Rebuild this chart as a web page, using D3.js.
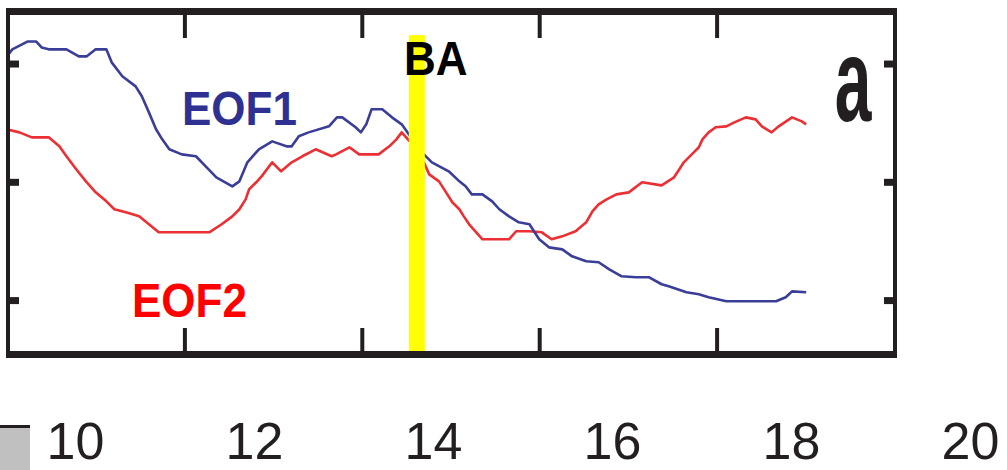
<!DOCTYPE html>
<html>
<head>
<meta charset="utf-8">
<script src="https://cdn.jsdelivr.net/npm/d3@7"></script>
<style>
  html, body { margin: 0; padding: 0; background: #ffffff; }
  svg { display: block; }
</style>
</head>
<body>
<svg id="chart" width="1007" height="470"></svg>
<script>
// ---- data ----
const xTickValues = [12, 14, 16, 18];
const yTickValues = [-1, 0, 1];
const xTickLabels = [10, 12, 14, 16, 18, 20];
const baYear = 14.62;
const baLabel = "BA";
const panelLabel = "a";
const seriesNames = ["EOF1", "EOF2"];

const eof1X = [10.00,10.06,10.23,10.33,10.39,10.47,10.67,10.81,10.90,11.00,11.12,11.18,11.30,11.45,11.52,11.60,11.68,11.75,11.83,11.97,12.13,12.24,12.36,12.54,12.62,12.71,12.84,12.99,13.15,13.21,13.29,13.40,13.63,13.72,13.78,13.93,13.99,14.05,14.11,14.23,14.34,14.45,14.57,14.70,14.79,14.98,15.10,15.17,15.24,15.36,15.47,15.55,15.66,15.77,15.89,16.00,16.11,16.26,16.37,16.53,16.67,16.79,16.93,17.09,17.24,17.38,17.46,17.66,17.80,17.91,18.11,18.29,18.48,18.67,18.78,18.85,19.01];
const eof1Y = [1.061,1.12,1.186,1.186,1.136,1.12,1.12,1.061,1.061,1.12,1.12,1.01,0.892,0.807,0.723,0.587,0.444,0.359,0.275,0.232,0.216,0.131,0.038,-0.038,0.004,0.165,0.275,0.342,0.300,0.300,0.385,0.418,0.469,0.545,0.545,0.461,0.418,0.486,0.613,0.613,0.545,0.486,0.36,0.232,0.165,0.089,0.004,-0.038,-0.106,-0.106,-0.165,-0.232,-0.292,-0.342,-0.359,-0.486,-0.554,-0.571,-0.630,-0.672,-0.680,-0.740,-0.799,-0.807,-0.807,-0.866,-0.883,-0.934,-0.951,-0.976,-1.010,-1.010,-1.010,-1.010,-0.976,-0.926,-0.934];

const eof2X = [10.00,10.14,10.28,10.47,10.59,10.67,10.78,10.89,11.00,11.12,11.21,11.34,11.49,11.60,11.71,11.86,12.09,12.28,12.42,12.54,12.62,12.69,12.73,12.81,12.87,12.99,13.09,13.21,13.33,13.48,13.66,13.71,13.86,13.97,14.19,14.31,14.39,14.45,14.57,14.70,14.76,14.87,14.95,15.02,15.10,15.15,15.21,15.29,15.36,15.51,15.66,15.74,15.89,16.03,16.14,16.26,16.41,16.53,16.60,16.67,16.76,16.87,17.01,17.16,17.38,17.52,17.58,17.63,17.72,17.80,17.84,17.91,17.99,18.11,18.20,18.33,18.44,18.51,18.62,18.70,18.85,18.96,19.01];
const eof2Y = [0.444,0.418,0.376,0.376,0.300,0.216,0.106,0.004,-0.089,-0.165,-0.232,-0.258,-0.292,-0.359,-0.427,-0.427,-0.427,-0.427,-0.359,-0.292,-0.232,-0.148,-0.063,-0.004,0.046,0.165,0.089,0.165,0.216,0.275,0.216,0.232,0.292,0.232,0.232,0.300,0.359,0.418,0.317,0.165,0.063,0.004,-0.089,-0.173,-0.232,-0.292,-0.359,-0.427,-0.486,-0.486,-0.486,-0.418,-0.418,-0.427,-0.486,-0.461,-0.418,-0.342,-0.249,-0.190,-0.148,-0.106,-0.089,-0.004,-0.030,0.038,0.106,0.165,0.232,0.292,0.359,0.418,0.461,0.469,0.503,0.545,0.528,0.469,0.418,0.469,0.545,0.511,0.486];

// ---- layout ----
const svg = d3.select("#chart");

const x = d3.scaleLinear().domain([10, 20]).range([7, 894]);
const y = d3.scaleLinear().domain([-1.46, 1.44]).range([354.5, 11.5]);
const xLab = d3.scaleLinear().domain([10, 20]).range([75, 970]);

const ink = "#231f20";

// clip
svg.append("defs").append("clipPath").attr("id", "clip")
  .append("rect").attr("x", 10).attr("y", 15).attr("width", 883).attr("height", 336);

const line = d3.line().x(d => x(d[0])).y(d => y(d[1]));
const s1 = eof1X.map((v, i) => [v, eof1Y[i]]);
const s2 = eof2X.map((v, i) => [v, eof2Y[i]]);

const plot = svg.append("g").attr("clip-path", "url(#clip)");
plot.append("path").datum(s2).attr("d", line)
  .attr("fill", "none").attr("stroke", "#ec2f33").attr("stroke-width", 2.6)
  .attr("stroke-linejoin", "round");
plot.append("path").datum(s1).attr("d", line)
  .attr("fill", "none").attr("stroke", "#3a3e98").attr("stroke-width", 2.6)
  .attr("stroke-linejoin", "round");

// yellow BA bar
svg.append("rect")
  .attr("x", x(baYear) - 8).attr("width", 16)
  .attr("y", y(1.24)).attr("height", y(-1.46) - y(1.24))
  .attr("fill", "#ffff00");

// axes (inward ticks, no labels)
function styleAxis(g, w) {
  g.select(".domain").remove();
  g.selectAll(".tick line").attr("stroke", ink).attr("stroke-width", w);
  g.selectAll(".tick text").remove();
}
svg.append("g").attr("transform", "translate(0,351)")
  .call(d3.axisBottom(x).tickValues(xTickValues).tickSize(-23).tickFormat(""))
  .call(g => styleAxis(g, 4));
svg.append("g").attr("transform", "translate(0,15)")
  .call(d3.axisTop(x).tickValues(xTickValues).tickSize(-23).tickFormat(""))
  .call(g => styleAxis(g, 4));
svg.append("g").attr("transform", "translate(10,0)")
  .call(d3.axisLeft(y).tickValues(yTickValues).tickSize(-9).tickFormat(""))
  .call(g => styleAxis(g, 7));
svg.append("g").attr("transform", "translate(893,0)")
  .call(d3.axisRight(y).tickValues(yTickValues).tickSize(-9).tickFormat(""))
  .call(g => styleAxis(g, 7));

// frame
const frame = svg.append("g").attr("stroke", ink).attr("fill", "none");
frame.append("line").attr("x1", 6).attr("x2", 897).attr("y1", 11.5).attr("y2", 11.5).attr("stroke-width", 7);
frame.append("line").attr("x1", 6).attr("x2", 897).attr("y1", 354.5).attr("y2", 354.5).attr("stroke-width", 7);
frame.append("line").attr("x1", 8).attr("x2", 8).attr("y1", 8).attr("y2", 358).attr("stroke-width", 4);
frame.append("line").attr("x1", 895).attr("x2", 895).attr("y1", 8).attr("y2", 358).attr("stroke-width", 4);

// text labels
const bold = "'Liberation Sans', Arial, Helvetica, sans-serif";
svg.append("text").text(seriesNames[0])
  .attr("transform", "translate(182,125) scale(1,1.1)")
  .attr("font-family", bold).attr("font-weight", "bold").attr("font-size", 44)
  .attr("fill", "#2e3192");
svg.append("text").text(seriesNames[1])
  .attr("transform", "translate(132,317) scale(1,1.1)")
  .attr("font-family", bold).attr("font-weight", "bold").attr("font-size", 44)
  .attr("fill", "#ff0000");
svg.append("text").text(baLabel)
  .attr("transform", "translate(404,75) scale(1,1.08)")
  .attr("font-family", bold).attr("font-weight", "bold").attr("font-size", 44)
  .attr("fill", "#000000");
svg.append("text").text(panelLabel)
  .attr("transform", "translate(853,121) scale(1,1.8)")
  .attr("text-anchor", "middle")
  .attr("font-family", bold).attr("font-weight", "bold").attr("font-size", 66)
  .attr("fill", ink);

// grey swatch at lower left
svg.append("rect").attr("x", 0).attr("y", 427).attr("width", 30).attr("height", 43).attr("fill", "#c0c0c0");
svg.append("rect").attr("x", 0).attr("y", 425).attr("width", 30).attr("height", 3).attr("fill", ink);

// tick labels row
const labAxis = svg.append("g").attr("transform", "translate(0,459)")
  .call(d3.axisBottom(xLab).tickValues(xTickLabels).tickSize(0).tickFormat(d3.format("d")));
labAxis.select(".domain").remove();
labAxis.selectAll(".tick text")
  .attr("y", 0).attr("dy", 0)
  .attr("font-family", "'Liberation Sans', Arial, Helvetica, sans-serif")
  .attr("font-size", 52).attr("fill", ink);
</script>
</body>
</html>
